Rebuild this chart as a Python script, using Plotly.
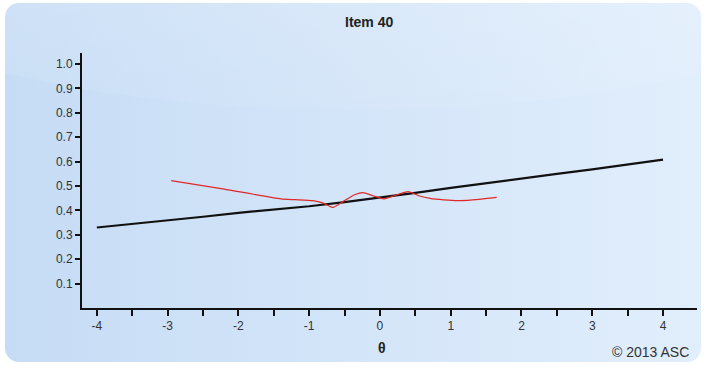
import base64
import plotly.graph_objects as go

# ---- data ----
theta_model = [-4, -3.5, -3, -2.5, -2, -1.5, -1, -0.5, 0, 0.5, 1, 1.5, 2, 2.5, 3, 3.5, 4]
p_model = [0.330, 0.344, 0.358, 0.374, 0.390, 0.403, 0.417, 0.434, 0.452, 0.472, 0.492, 0.512,
           0.532, 0.550, 0.568, 0.588, 0.608]

theta_emp = [-2.95, -2.2, -1.4, -1.2, -0.95, -0.8, -0.66, -0.5, -0.35, -0.24, -0.1,
             0.05, 0.2, 0.4, 0.55, 0.71, 0.9, 1.13, 1.4, 1.65]
p_emp = [0.522, 0.487, 0.447, 0.444, 0.440, 0.430, 0.412, 0.440, 0.465, 0.473, 0.460,
         0.447, 0.460, 0.477, 0.460, 0.449, 0.443, 0.440, 0.445, 0.453]

x_ticks = [-4, -3, -2, -1, 0, 1, 2, 3, 4]
y_ticks = [0.1, 0.2, 0.3, 0.4, 0.5, 0.6, 0.7, 0.8, 0.9, 1.0]

W, H = 709, 365

# background panel (rounded, gradient) as svg image
svg = f'''<svg xmlns="http://www.w3.org/2000/svg" width="{W}" height="{H}" viewBox="0 0 {W} {H}">
<defs>
<linearGradient id="g" x1="0" y1="0" x2="1" y2="0">
<stop offset="0" stop-color="#c6dcf5"/>
<stop offset="1" stop-color="#e1eefc"/>
</linearGradient>
<linearGradient id="t" x1="0" y1="0" x2="0" y2="1">
<stop offset="0" stop-color="#ffffff" stop-opacity="0.35"/>
<stop offset="1" stop-color="#ffffff" stop-opacity="0.05"/>
</linearGradient>
<clipPath id="c"><rect x="5" y="3" width="696" height="359" rx="14" ry="14"/></clipPath>
</defs>
<rect x="5" y="3" width="696" height="359" rx="14" ry="14" fill="url(#g)"/>
<g clip-path="url(#c)"><ellipse cx="354" cy="-60" rx="560" ry="170" fill="url(#t)"/></g>
</svg>'''
src = "data:image/svg+xml;base64," + base64.b64encode(svg.encode()).decode()

fig = go.Figure()
fig.add_trace(go.Scatter(x=theta_model, y=p_model, mode="lines",
                         line=dict(color="#111111", width=2.2), hoverinfo="skip"))
fig.add_trace(go.Scatter(x=theta_emp, y=p_emp, mode="lines",
                         line=dict(color="#e02828", width=1.2, shape="spline", smoothing=0.5),
                         hoverinfo="skip"))

FONT = "Liberation Sans, Arial, sans-serif"
axis_font = dict(family=FONT, size=12, color="#333333")
fig.update_layout(
    width=W, height=H,
    margin=dict(l=82, r=12, t=53, b=57),
    paper_bgcolor="white", plot_bgcolor="rgba(0,0,0,0)",
    showlegend=False,
    images=[dict(source=src, xref="paper", yref="paper", x=-82 / 615, y=1 + 53 / 255,
                 sizex=W / 615, sizey=H / 255, xanchor="left", yanchor="top",
                 sizing="stretch", layer="below")],
    xaxis=dict(range=[-4.21, 4.48], tickvals=x_ticks, ticktext=[str(v) for v in x_ticks],
               ticks="outside", ticklen=6, tickwidth=2, tickcolor="#111111",
               showline=True, linecolor="#111111", linewidth=2, showgrid=False, zeroline=False,
               tickfont=axis_font,
               minor=dict(dtick=0.5, tick0=0.5, ticks="outside", ticklen=6, tickwidth=2,
                          tickcolor="#111111", showgrid=False)),
    yaxis=dict(range=[0, 1.045], tickvals=y_ticks, ticktext=[f"{v:.1f}" for v in y_ticks],
               ticks="outside", ticklen=5, tickwidth=2, tickcolor="#111111",
               showline=True, linecolor="#111111", linewidth=2, showgrid=False, zeroline=False,
               tickfont=axis_font),
    annotations=[
        dict(text="<b>Item 40</b>", xref="paper", yref="paper", x=(369 - 82) / 615,
             y=1 + (53 - 22) / 255, showarrow=False, xanchor="center", yanchor="middle",
             font=dict(family=FONT, size=14, color="#222222")),
        dict(text="<b>θ</b>", xref="paper", yref="paper", x=(382 - 82) / 615,
             y=-(348 - 308) / 255, showarrow=False, xanchor="center", yanchor="middle",
             font=dict(family=FONT, size=14, color="#222222")),
        dict(text="© 2013 ASC", xref="paper", yref="paper", x=(691 - 82) / 615,
             y=-(352 - 308) / 255, showarrow=False, xanchor="right", yanchor="middle",
             font=dict(family=FONT, size=14, color="#333333")),
    ],
)

fig.write_html("out.html")
